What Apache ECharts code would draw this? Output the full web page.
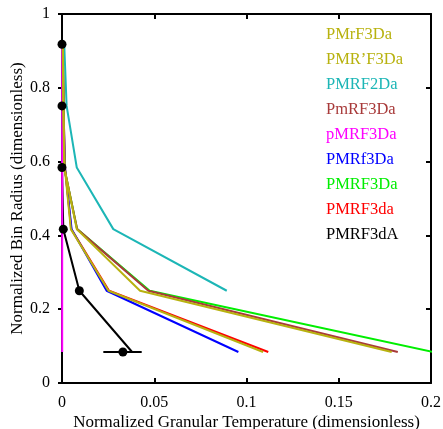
<!DOCTYPE html>
<html>
<head>
<meta charset="utf-8">
<script src="https://cdn.jsdelivr.net/npm/echarts@6/dist/echarts.min.js"></script>
<style>
html,body{margin:0;padding:0;background:#fff;}
#chart{width:443px;height:429px;}
</style>
</head>
<body>
<div id="chart"></div>
<script>
// Normalized bin radii (y values shared by all curves)
var binRadius = [0.918, 0.751, 0.584, 0.417, 0.25, 0.084];

// Normalized granular temperature for each model (x values)
var PMrF3Da  = [0.0005, 0.0008, 0.0012, 0.0080, 0.0423, 0.1787];
var PMRpF3Da = [0.0004, 0.0007, 0.0015, 0.0048, 0.0252, 0.1090];
var PMRF2Da  = [0.0012, 0.0025, 0.0080, 0.0278, 0.0893, null];
var PmRF3Da  = [0.0005, 0.0008, 0.0012, 0.0082, 0.0468, 0.1820];
var pMRF3Da  = [0.0001, 0.0001, 0.0001, 0.0001, 0.0001, 0.0001];
var PMRf3Da  = [0.0004, 0.0008, 0.0016, 0.0052, 0.0242, 0.0956];
var PMRF3Da  = [0.0005, 0.0008, 0.0012, 0.0082, 0.0475, 0.2010];
var PMRF3da  = [0.0004, 0.0008, 0.0016, 0.0050, 0.0255, 0.1118];
var PMRF3dA  = [0.0000, 0.0000, 0.0000, 0.0007, 0.0094, 0.0380];

// Measured data (black markers) with horizontal error bar on the last point
var measX    = [0.0000, 0.0000, 0.0000, 0.0007, 0.0094, 0.0330];
var measY    = [0.918, 0.751, 0.584, 0.417, 0.25, 0.084];
var errLo    = [0.0224];
var errHi    = [0.0432];
var errY     = [0.084];

var xTicks = {min: 0, max: 0.2, interval: 0.05};
var yTicks = {min: 0, max: 1, interval: 0.2};

var legendOrder = [
  {name: 'PMrF3Da',  data: PMrF3Da,  color: '#b8b20f'},
  {name: 'PMR\u2019F3Da', data: PMRpF3Da, color: '#b8b20f'},
  {name: 'PMRF2Da',  data: PMRF2Da,  color: '#1cb6b6'},
  {name: 'PmRF3Da',  data: PmRF3Da,  color: '#a83a3a'},
  {name: 'pMRF3Da',  data: pMRF3Da,  color: '#ff00ff'},
  {name: 'PMRf3Da',  data: PMRf3Da,  color: '#0000ff'},
  {name: 'PMRF3Da',  data: PMRF3Da,  color: '#00ee00'},
  {name: 'PMRF3da',  data: PMRF3da,  color: '#ff0000'},
  {name: 'PMRF3dA',  data: PMRF3dA,  color: '#000000'}
];

function pairs(xs, ys) {
  var out = [];
  for (var i = 0; i < xs.length; i++) {
    if (xs[i] !== null) out.push([xs[i], ys[i]]);
  }
  return out;
}

var series = [];
// draw in reverse legend order so the first entries end up on top
for (var i = legendOrder.length - 1; i >= 0; i--) {
  var s = legendOrder[i];
  series.push({
    name: s.name,
    type: 'line',
    data: pairs(s.data, binRadius),
    showSymbol: false,
    symbol: 'none',
    lineStyle: {color: s.color, width: 2},
    itemStyle: {color: s.color},
    clip: true,
    animation: false,
    z: 2
  });
}
series.push({
  name: 'PMRF3dA',
  type: 'custom',
  data: errLo.map(function (v, i) { return [errLo[i], errHi[i], errY[i]]; }),
  encode: {x: [0, 1], y: 2},
  renderItem: function (params, api) {
    var p1 = api.coord([api.value(0), api.value(2)]);
    var p2 = api.coord([api.value(1), api.value(2)]);
    return {type: 'line', shape: {x1: p1[0], y1: p1[1], x2: p2[0], y2: p2[1]},
            style: {stroke: '#000', lineWidth: 2}};
  },
  z: 5,
  animation: false
});
series.push({
  name: 'PMRF3dA',
  type: 'scatter',
  data: pairs(measX, measY),
  symbol: 'circle',
  symbolSize: 9,
  itemStyle: {color: '#000', opacity: 1},
  clip: false,
  z: 6,
  animation: false
});

var serif = 'Liberation Serif, Times New Roman, serif';
var axisLine = {show: true, onZero: false, lineStyle: {color: '#000', width: 2}};

var chart = echarts.init(document.getElementById('chart'), null, {renderer: 'canvas'});
chart.setOption({
  backgroundColor: '#fff',
  animation: false,
  grid: {left: 62, right: 12, top: 14, bottom: 46, containLabel: false, outerBoundsMode: 'none'},
  legend: {
    orient: 'vertical',
    left: 316,
    top: 21,
    icon: 'rect',
    itemWidth: 0,
    itemHeight: 0,
    itemGap: 8,
    selectedMode: false,
    textStyle: {fontFamily: serif, fontSize: 16.5, lineHeight: 16},
    data: legendOrder.map(function (s) {
      return {name: s.name, textStyle: {color: s.color}};
    })
  },
  xAxis: [
    {
      type: 'value', position: 'bottom', min: xTicks.min, max: xTicks.max, interval: xTicks.interval,
      name: 'Normalized Granular Temperature (dimensionless)',
      nameLocation: 'middle', nameGap: 31, nameMoveOverlap: false,
      nameTextStyle: {fontFamily: serif, fontSize: 17, color: '#000'},
      axisLine: axisLine,
      axisTick: {show: true, inside: true, length: 5, lineStyle: {color: '#000', width: 2}},
      axisLabel: {fontFamily: serif, fontSize: 16, color: '#000', margin: 12},
      splitLine: {show: false}
    },
    {
      type: 'value', position: 'top', min: xTicks.min, max: xTicks.max, interval: xTicks.interval,
      axisLine: axisLine,
      axisTick: {show: true, inside: true, length: 5, lineStyle: {color: '#000', width: 2}},
      axisLabel: {show: false},
      splitLine: {show: false}
    }
  ],
  yAxis: [
    {
      type: 'value', position: 'left', min: yTicks.min, max: yTicks.max, interval: yTicks.interval,
      name: 'Normalized Bin Radius (dimensionless)',
      nameLocation: 'middle', nameGap: 36, nameRotate: 90, nameMoveOverlap: false,
      nameTextStyle: {fontFamily: serif, fontSize: 17, color: '#000'},
      axisLine: axisLine,
      axisTick: {show: true, inside: false, length: 4, lineStyle: {color: '#000', width: 2}},
      axisLabel: {fontFamily: serif, fontSize: 16, color: '#000', margin: 12},
      splitLine: {show: false}
    },
    {
      type: 'value', position: 'right', min: yTicks.min, max: yTicks.max, interval: yTicks.interval,
      axisLine: axisLine,
      axisTick: {show: true, inside: true, length: 5, lineStyle: {color: '#000', width: 2}},
      axisLabel: {show: false},
      splitLine: {show: false}
    }
  ],
  series: series
});
</script>
</body>
</html>
